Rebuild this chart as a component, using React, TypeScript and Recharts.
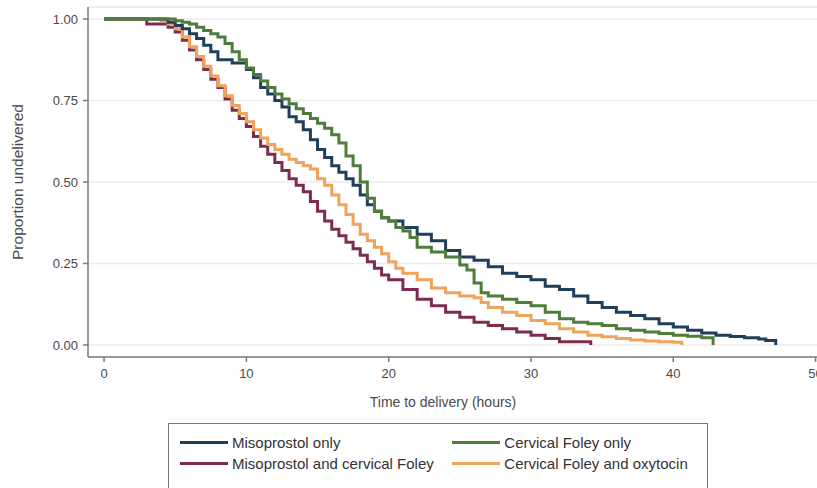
import { LineChart, Line, XAxis, YAxis, CartesianGrid, ReferenceLine } from "recharts";

// Kaplan-Meier estimates (time in hours, proportion undelivered)
const misoTimes = [0, 4.5, 5, 5.5, 6, 6.5, 7, 7.5, 8, 9, 10, 10.5, 11, 11.5, 12, 12.5, 13, 13.5, 14, 14.5, 15, 15.5, 16, 16.5, 17, 17.5, 18, 18.5, 19, 19.5, 20, 21, 22, 23, 24, 25, 26, 27, 28, 29, 30, 31, 32, 33, 34, 35, 36, 37, 38, 39, 40, 41, 42, 43, 44, 45, 46, 46.5, 47.2];
const misoSurv = [1, 0.99, 0.98, 0.97, 0.955, 0.94, 0.92, 0.9, 0.875, 0.865, 0.845, 0.82, 0.79, 0.77, 0.75, 0.73, 0.7, 0.685, 0.66, 0.63, 0.6, 0.575, 0.55, 0.53, 0.51, 0.49, 0.46, 0.43, 0.41, 0.39, 0.38, 0.36, 0.34, 0.32, 0.29, 0.27, 0.26, 0.24, 0.22, 0.21, 0.2, 0.18, 0.17, 0.15, 0.13, 0.115, 0.1, 0.09, 0.08, 0.065, 0.055, 0.045, 0.037, 0.03, 0.026, 0.022, 0.018, 0.014, 0];

const foleyTimes = [0, 5, 5.5, 6, 6.5, 7, 7.5, 8, 8.5, 9, 9.5, 10, 10.5, 11, 11.5, 12, 12.5, 13, 13.5, 14, 14.5, 15, 15.5, 16, 16.5, 17, 17.5, 18, 18.5, 19, 19.5, 20, 20.5, 21, 21.5, 22, 23, 24, 25, 25.5, 26, 26.5, 27, 28, 29, 30, 31, 32, 33, 34, 35, 36, 37, 38, 39, 40, 41, 42, 42.8];
const foleySurv = [1, 0.995, 0.99, 0.985, 0.975, 0.965, 0.955, 0.945, 0.925, 0.9, 0.875, 0.85, 0.83, 0.81, 0.79, 0.77, 0.755, 0.74, 0.725, 0.71, 0.695, 0.68, 0.665, 0.645, 0.62, 0.58, 0.55, 0.5, 0.45, 0.41, 0.39, 0.38, 0.36, 0.35, 0.33, 0.3, 0.285, 0.27, 0.245, 0.23, 0.19, 0.16, 0.15, 0.14, 0.13, 0.12, 0.1, 0.08, 0.07, 0.065, 0.06, 0.05, 0.045, 0.04, 0.035, 0.03, 0.027, 0.022, 0];

const misoFoleyTimes = [0, 3, 4.5, 5, 5.5, 6, 6.5, 7, 7.5, 8, 8.5, 9, 9.5, 10, 10.5, 11, 11.5, 12, 12.5, 13, 13.5, 14, 14.5, 15, 15.5, 16, 16.5, 17, 17.5, 18, 18.5, 19, 19.5, 20, 21, 22, 23, 24, 25, 26, 27, 28, 29, 30, 31, 32, 34.2];
const misoFoleySurv = [1, 0.985, 0.975, 0.96, 0.935, 0.905, 0.875, 0.845, 0.815, 0.79, 0.755, 0.72, 0.695, 0.67, 0.64, 0.61, 0.585, 0.56, 0.535, 0.51, 0.49, 0.47, 0.44, 0.41, 0.38, 0.355, 0.335, 0.315, 0.295, 0.275, 0.255, 0.235, 0.215, 0.2, 0.17, 0.14, 0.12, 0.1, 0.085, 0.07, 0.06, 0.05, 0.04, 0.03, 0.02, 0.01, 0];

const foleyOxyTimes = [0, 4, 4.5, 5, 5.5, 6, 6.5, 7, 7.5, 8, 8.5, 9, 9.5, 10, 10.5, 11, 11.5, 12, 12.5, 13, 13.5, 14, 14.5, 15, 15.5, 16, 16.5, 17, 17.5, 18, 18.5, 19, 19.5, 20, 20.5, 21, 22, 23, 24, 25, 26, 26.5, 27, 28, 29, 30, 31, 32, 33, 34, 35, 36, 37, 38, 39, 40, 40.6];
const foleyOxySurv = [1, 0.995, 0.985, 0.97, 0.945, 0.915, 0.885, 0.855, 0.825, 0.795, 0.765, 0.735, 0.71, 0.685, 0.66, 0.635, 0.615, 0.6, 0.585, 0.57, 0.56, 0.55, 0.54, 0.51, 0.49, 0.46, 0.43, 0.4, 0.37, 0.34, 0.32, 0.3, 0.28, 0.255, 0.235, 0.22, 0.2, 0.175, 0.16, 0.15, 0.145, 0.13, 0.115, 0.1, 0.09, 0.075, 0.065, 0.05, 0.04, 0.03, 0.025, 0.02, 0.015, 0.012, 0.01, 0.008, 0];

const xTicks = [0, 10, 20, 30, 40, 50];
const yTicks = [0, 0.25, 0.5, 0.75, 1];

const toPoints = (times: number[], surv: number[]) =>
  times.map((t, i) => ({ t, s: surv[i] }));

const series = [
  { name: "Misoprostol and cervical Foley", color: "#7d2c4f", data: toPoints(misoFoleyTimes, misoFoleySurv) },
  { name: "Cervical Foley and oxytocin", color: "#f0a35a", data: toPoints(foleyOxyTimes, foleyOxySurv) },
  { name: "Misoprostol only", color: "#1f3f5b", data: toPoints(misoTimes, misoSurv) },
  { name: "Cervical Foley only", color: "#4e7d3a", data: toPoints(foleyTimes, foleySurv) },
];

const legendRows = [
  ["Misoprostol only", "Cervical Foley only"],
  ["Misoprostol and cervical Foley", "Cervical Foley and oxytocin"],
];

const font = "'Liberation Sans', Arial, sans-serif";
const axisColor = "#7a7a7a";
const textColor = "#4a4a4a";

const colorOf = (name: string) => series.find((s) => s.name === name)?.color ?? "#444";

export default function App() {
  return (
    <div style={{ position: "absolute", left: 0, top: 0, width: 817, height: 488, background: "#fff", fontFamily: font, overflow: "hidden" }}>
      <LineChart width={817} height={488} margin={{ top: 7, right: 0, bottom: 101, left: 0 }}>
        <CartesianGrid vertical={false} stroke="#ececec" strokeWidth={1.5} />
        <ReferenceLine y={1.037} stroke="#ececec" strokeWidth={1.5} />
        <XAxis
          type="number"
          dataKey="t"
          domain={[-1.13, 50.1]}
          ticks={xTicks}
          interval={0}
          allowDataOverflow
          height={30}
          stroke={axisColor}
          strokeWidth={1.5}
          tickSize={5}
          tickMargin={7}
          tick={{ fill: textColor, fontSize: 13, fontFamily: font }}
          label={{
            content: () => (
              <text x={443} y={407} textAnchor="middle" fill={textColor} fontSize={14} fontFamily={font}>
                Time to delivery (hours)
              </text>
            ),
          }}
        />
        <YAxis
          type="number"
          domain={[-0.037, 1.037]}
          ticks={yTicks}
          interval={0}
          allowDataOverflow
          width={88}
          stroke={axisColor}
          strokeWidth={1.5}
          tickSize={5}
          tickMargin={5}
          tickFormatter={(v: number) => v.toFixed(2)}
          tick={{ fill: textColor, fontSize: 13, fontFamily: font }}
          label={{
            content: () => (
              <text x={23} y={182} transform="rotate(-90 23 182)" textAnchor="middle" fill={textColor} fontSize={15.5} fontFamily={font}>
                Proportion undelivered
              </text>
            ),
          }}
        />
        {series.map((s) => (
          <Line
            key={s.name}
            data={s.data}
            dataKey="s"
            name={s.name}
            type="stepAfter"
            stroke={s.color}
            strokeWidth={3}
            dot={false}
            activeDot={false}
            isAnimationActive={false}
          />
        ))}
      </LineChart>
      <div
        style={{
          position: "absolute",
          left: 168,
          top: 423,
          width: 540,
          height: 80,
          border: "1px solid #777",
          boxSizing: "border-box",
          padding: "8px 0 0 11px",
          fontSize: 15,
          color: "#333",
        }}
      >
        {legendRows.map((row, r) => (
          <div key={r} style={{ display: "flex", height: 21, alignItems: "center" }}>
            {row.map((name, c) => (
              <div key={name} style={{ display: "flex", alignItems: "center", width: c === 0 ? 278 : 260 }}>
                <div style={{ width: 48, height: 3, background: colorOf(name), marginRight: 4 }} />
                <span>{name}</span>
              </div>
            ))}
          </div>
        ))}
      </div>
    </div>
  );
}
